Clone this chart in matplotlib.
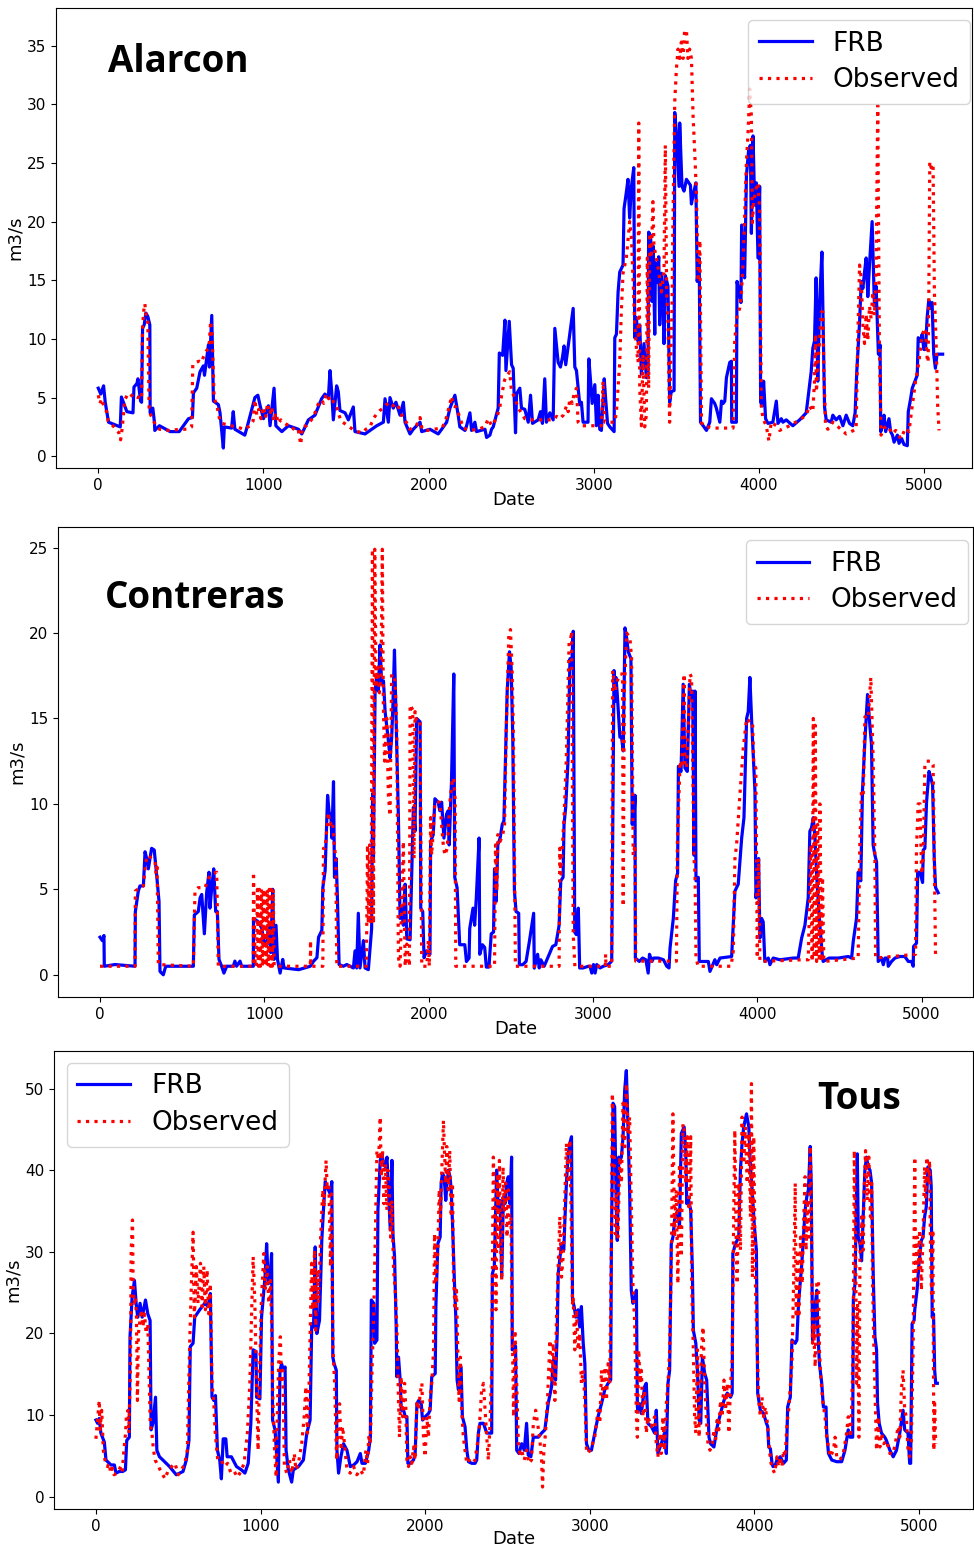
import matplotlib
matplotlib.use("Agg")
import matplotlib.pyplot as plt

# ---------------- Alarcon ----------------
alarcon_frb_day = [0, 15, 32, 42, 62, 133, 140, 173, 210, 216, 234, 240, 256, 262, 268, 278, 288, 300, 312, 314,
                   330, 340, 342, 370, 435, 490, 546, 570, 576, 596, 616, 636, 643, 667, 673, 687, 697, 727, 737, 757,
                   763, 807, 817, 827, 887, 907, 948, 966, 980, 1000, 1030, 1040, 1064, 1075, 1111, 1151, 1212, 1232, 1272, 1312,
                   1352, 1372, 1393, 1403, 1413, 1423, 1443, 1453, 1463, 1494, 1514, 1544, 1554, 1615, 1645, 1686, 1726, 1736, 1756, 1766,
                   1786, 1802, 1827, 1847, 1857, 1887, 1907, 1948, 1958, 2008, 2058, 2079, 2109, 2129, 2159, 2179, 2189, 2220, 2230, 2250,
                   2260, 2280, 2290, 2341, 2351, 2371, 2381, 2391, 2421, 2428, 2448, 2462, 2468, 2488, 2502, 2512, 2526, 2532, 2552, 2562,
                   2582, 2603, 2617, 2629, 2663, 2677, 2689, 2703, 2713, 2734, 2754, 2764, 2784, 2798, 2810, 2820, 2830, 2875, 2885, 2895,
                   2915, 2925, 2935, 2965, 2970, 2982, 2990, 3006, 3016, 3026, 3036, 3046, 3063, 3071, 3083, 3097, 3123, 3127, 3137, 3147,
                   3157, 3177, 3183, 3197, 3207, 3217, 3228, 3242, 3248, 3258, 3268, 3278, 3288, 3304, 3318, 3328, 3332, 3344, 3352, 3360,
                   3369, 3373, 3385, 3393, 3399, 3409, 3419, 3425, 3433, 3449, 3459, 3469, 3486, 3490, 3500, 3516, 3520, 3534, 3546, 3561,
                   3575, 3585, 3591, 3600, 3618, 3626, 3638, 3646, 3662, 3682, 3702, 3712, 3732, 3742, 3763, 3773, 3783, 3793, 3803, 3823,
                   3833, 3835, 3863, 3867, 3883, 3891, 3895, 3903, 3913, 3924, 3938, 3948, 3954, 3964, 3974, 3984, 3994, 4004, 4010, 4020,
                   4028, 4040, 4054, 4084, 4105, 4115, 4135, 4145, 4165, 4205, 4246, 4286, 4316, 4326, 4336, 4346, 4356, 4367, 4381, 4387,
                   4397, 4407, 4437, 4447, 4467, 4488, 4508, 4528, 4548, 4568, 4582, 4592, 4609, 4619, 4629, 4639, 4649, 4659, 4669, 4685,
                   4699, 4709, 4723, 4729, 4733, 4737, 4747, 4757, 4767, 4787, 4797, 4808, 4818, 4838, 4848, 4864, 4878, 4898, 4904, 4918,
                   4928, 4944, 4958, 4964, 4978, 4988, 4998, 5008, 5018, 5028, 5038, 5048, 5058, 5068, 5078, 5112]
alarcon_frb_q = [5.8, 5.3, 6.0, 4.6, 2.9, 2.5, 5.05, 3.8, 3.7, 5.9, 6.2, 6.6, 4.7, 4.6, 10.9, 11.2, 12.2, 11.9, 11.2, 3.7,
                 4.1, 2.9, 2.2, 2.6, 2.1, 2.1, 3.2, 3.3, 5.4, 5.8, 7.2, 7.7, 6.9, 9.5, 7.6, 12.0, 4.7, 4.4, 3.7, 0.7,
                 2.5, 2.4, 3.8, 2.3, 1.8, 2.8, 5.0, 5.2, 4.3, 3.2, 4.3, 2.6, 5.8, 2.6, 2.1, 2.6, 2.3, 1.9, 3.1, 3.5,
                 4.9, 5.3, 5.0, 7.3, 5.5, 3.1, 6.0, 5.5, 3.9, 3.7, 3.1, 4.2, 2.1, 1.9, 2.2, 2.6, 2.9, 4.9, 2.9, 5.0,
                 4.1, 4.6, 3.5, 4.6, 2.9, 1.9, 2.3, 2.9, 2.1, 2.3, 1.9, 2.3, 2.9, 4.1, 5.2, 3.5, 2.5, 2.2, 2.6, 3.7,
                 2.2, 2.9, 2.1, 2.3, 1.6, 1.8, 2.3, 2.5, 4.1, 8.8, 8.6, 11.6, 7.3, 11.5, 7.8, 7.5, 2.0, 5.3, 5.8, 4.1,
                 4.0, 2.9, 5.2, 2.8, 3.1, 3.8, 2.8, 6.6, 2.9, 3.7, 3.1, 10.9, 8.0, 7.6, 8.4, 9.4, 7.8, 12.6, 7.6, 7.3,
                 4.4, 4.6, 2.9, 2.9, 8.3, 6.1, 4.5, 6.1, 2.6, 5.2, 2.3, 2.2, 6.6, 5.0, 2.8, 2.5, 2.1, 10.1, 10.4, 14.0,
                 15.7, 16.3, 21.1, 22.5, 23.6, 20.3, 23.0, 24.6, 10.1, 11.8, 9.8, 11.2, 7.0, 9.6, 6.7, 6.7, 19.1, 18.8, 13.2, 17.9,
                 10.4, 16.5, 14.8, 17.0, 11.2, 15.6, 13.6, 9.6, 15.4, 14.5, 4.6, 5.5, 5.6, 29.3, 27.6, 23.0, 28.4, 23.0, 22.6, 23.6,
                 23.3, 23.1, 21.5, 22.2, 23.3, 14.9, 16.9, 2.9, 2.6, 2.2, 2.9, 4.9, 4.5, 4.1, 2.9, 4.7, 4.5, 4.7, 6.7, 8.0,
                 8.1, 2.9, 2.9, 14.9, 13.8, 13.1, 19.7, 16.9, 15.2, 23.9, 26.2, 26.5, 19.0, 27.3, 21.4, 23.3, 16.9, 23.0, 4.6, 4.3,
                 6.4, 3.2, 2.8, 2.9, 4.7, 2.8, 3.2, 2.9, 3.1, 2.6, 3.1, 3.7, 7.2, 9.2, 9.8, 15.2, 6.4, 13.1, 17.4, 12.3,
                 4.2, 3.1, 2.9, 3.5, 3.1, 3.4, 2.6, 3.5, 2.8, 2.6, 3.7, 7.2, 11.4, 14.9, 14.3, 15.7, 16.9, 13.6, 16.3, 20.0,
                 12.8, 14.5, 8.7, 9.0, 9.5, 2.1, 2.6, 3.5, 2.1, 3.2, 2.1, 1.8, 1.2, 1.8, 1.1, 1.5, 1.0, 0.9, 3.8, 4.9,
                 5.8, 6.4, 6.9, 10.1, 9.8, 10.4, 9.1, 9.1, 11.8, 13.3, 12.6, 13.1, 8.7, 7.5, 8.7, 8.7]

alarcon_obs_day = [0, 10, 20, 35, 50, 60, 75, 95, 110, 125, 135, 145, 160, 175, 190, 210, 240, 255, 262, 268,
                   275, 282, 290, 300, 308, 325, 345, 370, 430, 500, 540, 565, 572, 590, 610, 625, 635, 655, 670, 680,
                   690, 701, 720, 735, 750, 800, 840, 880, 920, 937, 948, 960, 972, 985, 1000, 1012, 1025, 1040, 1050, 1062,
                   1075, 1090, 1105, 1120, 1140, 1160, 1190, 1210, 1226, 1235, 1260, 1290, 1312, 1330, 1350, 1365, 1380, 1395, 1410, 1425,
                   1440, 1455, 1470, 1490, 1510, 1540, 1570, 1600, 1620, 1645, 1665, 1685, 1705, 1725, 1745, 1765, 1785, 1805, 1825, 1845,
                   1865, 1885, 1905, 1925, 1948, 1960, 1990, 2030, 2080, 2100, 2129, 2139, 2149, 2165, 2189, 2210, 2250, 2300, 2340, 2361,
                   2381, 2410, 2430, 2442, 2460, 2475, 2491, 2502, 2522, 2542, 2562, 2582, 2620, 2680, 2754, 2775, 2795, 2815, 2835, 2845,
                   2855, 2870, 2880, 2895, 2900, 2905, 2925, 3006, 3046, 3056, 3066, 3127, 3137, 3157, 3167, 3177, 3197, 3217, 3228, 3248,
                   3258, 3268, 3272, 3278, 3288, 3298, 3308, 3318, 3324, 3332, 3338, 3348, 3358, 3364, 3379, 3393, 3409, 3425, 3433, 3441,
                   3449, 3459, 3465, 3473, 3479, 3490, 3500, 3510, 3520, 3530, 3540, 3550, 3561, 3570, 3580, 3591, 3601, 3611, 3621, 3626,
                   3632, 3642, 3652, 3662, 3722, 3823, 3843, 3853, 3867, 3883, 3893, 3903, 3913, 3924, 3934, 3944, 3954, 3960, 3968, 3984,
                   3994, 4004, 4014, 4024, 4044, 4060, 4074, 4105, 4125, 4185, 4246, 4286, 4306, 4326, 4336, 4342, 4348, 4356, 4367, 4377,
                   4387, 4393, 4403, 4417, 4447, 4528, 4588, 4598, 4609, 4619, 4629, 4639, 4649, 4659, 4669, 4679, 4689, 4699, 4709, 4719,
                   4725, 4729, 4739, 4757, 4777, 4808, 4828, 4858, 4888, 4908, 4928, 4948, 4968, 4988, 5008, 5018, 5024, 5028, 5034, 5042,
                   5054, 5062, 5074, 5082, 5090]
alarcon_obs_q = [5.2, 4.5, 4.9, 4.2, 3.8, 3.0, 2.8, 2.5, 2.2, 2.0, 1.4, 2.4, 4.8, 5.2, 5.0, 5.3, 5.0, 5.2, 5.0, 11.0,
                 12.4, 13.0, 11.8, 11.4, 3.8, 3.3, 2.7, 2.3, 2.2, 2.3, 2.3, 2.5, 7.8, 8.0, 8.1, 8.0, 8.4, 9.0, 9.2, 11.5,
                 10.2, 5.0, 4.2, 3.1, 2.8, 2.6, 2.5, 2.3, 2.6, 3.0, 4.8, 3.5, 4.0, 3.2, 4.2, 3.3, 4.5, 3.6, 4.2, 3.0,
                 3.7, 2.8, 3.1, 2.9, 2.7, 2.7, 2.2, 2.3, 1.0, 2.5, 2.6, 3.1, 3.7, 4.4, 4.8, 4.5, 5.3, 4.9, 5.1, 4.6,
                 4.4, 3.6, 3.0, 2.8, 2.6, 2.3, 2.1, 2.0, 2.3, 2.5, 3.2, 3.6, 3.9, 4.1, 4.4, 4.6, 4.3, 4.5, 4.0, 3.2,
                 2.9, 2.3, 2.4, 2.6, 3.3, 2.3, 2.2, 2.3, 2.4, 2.9, 4.5, 5.1, 4.3, 4.2, 3.3, 2.4, 2.2, 2.3, 2.5, 3.2,
                 2.6, 3.2, 4.1, 5.2, 6.5, 6.9, 7.2, 5.5, 5.0, 4.1, 3.7, 3.2, 3.1, 3.1, 3.1, 3.4, 3.2, 3.5, 4.3, 3.8,
                 4.9, 4.5, 5.3, 5.8, 4.3, 2.9, 2.6, 2.6, 2.6, 6.4, 2.9, 2.9, 3.8, 8.0, 12.5, 15.6, 16.9, 20.0, 18.6, 11.2,
                 9.2, 8.0, 28.4, 5.8, 2.6, 8.7, 2.5, 3.5, 16.9, 5.8, 19.0, 16.9, 21.7, 17.9, 16.9, 15.7, 14.0, 15.7, 26.5, 14.0,
                 11.4, 2.9, 7.2, 12.4, 19.7, 30.2, 33.0, 34.7, 33.9, 35.3, 33.9, 36.3, 36.3, 33.9, 34.7, 33.9, 29.0, 25.9, 22.5, 19.1,
                 14.9, 18.4, 2.9, 2.6, 2.4, 2.4, 2.4, 9.8, 12.0, 12.6, 13.8, 16.3, 20.3, 25.1, 27.6, 31.3, 29.0, 19.9, 21.7, 22.9,
                 23.3, 20.9, 4.3, 3.2, 2.6, 1.3, 2.9, 2.6, 2.2, 2.6, 3.1, 3.5, 4.3, 3.8, 6.4, 10.4, 5.5, 7.7, 9.9, 12.3,
                 12.3, 7.3, 2.6, 2.3, 2.9, 1.9, 2.3, 9.9, 16.3, 15.2, 11.2, 9.6, 12.1, 9.9, 12.8, 11.7, 14.0, 12.0, 16.0, 29.9,
                 18.0, 9.6, 1.8, 2.4, 2.6, 1.9, 2.2, 1.5, 2.4, 2.1, 4.3, 6.4, 8.0, 10.4, 10.9, 8.4, 8.0, 13.1, 25.1, 24.6,
                 24.9, 14.0, 8.9, 4.3, 2.2]

# ---------------- Contreras ----------------
contreras_frb_day = [0, 14, 24, 26, 91, 213, 215, 233, 243, 264, 274, 284, 294, 314, 330, 345, 359, 365, 385, 400,
                     568, 574, 598, 609, 619, 635, 649, 663, 669, 680, 692, 704, 714, 724, 740, 754, 771, 811, 821, 831,
                     852, 862, 933, 934, 964, 985, 995, 1015, 1025, 1039, 1051, 1059, 1071, 1080, 1096, 1112, 1120, 1209, 1280, 1300,
                     1320, 1330, 1350, 1356, 1370, 1385, 1397, 1405, 1411, 1421, 1427, 1437, 1445, 1455, 1481, 1502, 1542, 1552, 1562, 1572,
                     1582, 1603, 1613, 1633, 1653, 1659, 1664, 1674, 1684, 1694, 1704, 1714, 1725, 1735, 1755, 1765, 1775, 1782, 1792, 1802,
                     1816, 1826, 1836, 1846, 1857, 1867, 1887, 1897, 1907, 1917, 1927, 1948, 1952, 1964, 1972, 1988, 2008, 2012, 2028, 2038,
                     2058, 2068, 2079, 2093, 2109, 2119, 2125, 2139, 2153, 2159, 2173, 2189, 2220, 2230, 2246, 2250, 2270, 2280, 2290, 2307,
                     2311, 2327, 2341, 2351, 2367, 2381, 2395, 2401, 2411, 2421, 2435, 2448, 2458, 2468, 2478, 2492, 2502, 2512, 2522, 2532,
                     2548, 2552, 2572, 2593, 2613, 2639, 2643, 2663, 2673, 2683, 2703, 2734, 2754, 2774, 2794, 2804, 2818, 2824, 2834, 2848,
                     2860, 2870, 2880, 2889, 2899, 2911, 2919, 2940, 2972, 2982, 2993, 3003, 3013, 3023, 3043, 3063, 3094, 3114, 3128, 3134,
                     3140, 3148, 3164, 3174, 3184, 3195, 3205, 3215, 3231, 3239, 3245, 3250, 3256, 3258, 3282, 3302, 3322, 3336, 3344, 3359,
                     3369, 3398, 3429, 3449, 3463, 3469, 3489, 3503, 3515, 3520, 3536, 3549, 3560, 3574, 3587, 3597, 3607, 3615, 3621, 3627,
                     3641, 3647, 3671, 3702, 3712, 3742, 3753, 3773, 3844, 3864, 3884, 3905, 3919, 3935, 3945, 3955, 3966, 3976, 3986, 3992,
                     4000, 4008, 4016, 4026, 4036, 4046, 4067, 4077, 4097, 4138, 4219, 4249, 4270, 4290, 4310, 4320, 4330, 4341, 4351, 4361,
                     4371, 4381, 4397, 4401, 4437, 4493, 4554, 4574, 4584, 4604, 4614, 4630, 4640, 4655, 4671, 4685, 4695, 4705, 4716, 4726,
                     4736, 4756, 4767, 4777, 4793, 4797, 4817, 4838, 4868, 4898, 4919, 4939, 4949, 4951, 4969, 4976, 4990, 5006, 5010, 5020,
                     5030, 5045, 5057, 5067, 5077, 5085, 5101]
contreras_frb_q = [2.2, 2.0, 2.3, 0.5, 0.6, 0.5, 3.7, 4.9, 5.2, 5.2, 7.2, 6.8, 6.2, 7.4, 7.3, 5.8, 4.3, 0.2, 0.0, 0.5,
                   0.5, 3.5, 3.7, 4.5, 4.7, 2.4, 4.8, 6.0, 3.9, 5.1, 6.2, 3.7, 3.7, 0.9, 0.5, 0.1, 0.5, 0.5, 0.8, 0.5,
                   0.8, 0.5, 0.5, 3.3, 3.1, 2.7, 2.0, 1.8, 2.9, 1.3, 5.0, 0.9, 2.9, 0.9, 0.1, 0.9, 0.4, 0.3, 0.5, 0.8,
                   1.0, 2.2, 2.6, 5.1, 6.1, 10.5, 9.2, 9.4, 8.0, 11.3, 5.7, 6.8, 4.4, 0.6, 0.5, 0.6, 0.4, 1.4, 0.4, 3.6,
                   0.4, 2.0, 0.4, 0.3, 2.7, 10.6, 6.8, 16.6, 17.4, 16.6, 19.3, 17.0, 17.2, 15.4, 13.7, 12.7, 13.9, 15.6, 19.0, 15.0,
                   9.2, 3.3, 3.9, 2.9, 5.3, 2.1, 2.05, 5.9, 9.8, 8.4, 15.0, 14.8, 3.9, 3.7, 1.0, 1.4, 1.2, 7.8, 8.2, 10.3,
                   10.1, 9.6, 10.1, 8.0, 9.4, 9.6, 7.6, 11.3, 17.6, 5.7, 5.1, 1.76, 1.76, 0.78, 0.98, 2.7, 3.9, 2.9, 4.5, 8.0,
                   1.2, 1.76, 1.6, 0.45, 0.45, 2.4, 2.5, 6.2, 4.3, 7.6, 8.0, 8.8, 9.0, 12.7, 16.6, 18.9, 18.0, 13.9, 4.9, 3.7,
                   3.6, 0.59, 0.59, 0.78, 1.95, 3.6, 0.39, 1.2, 0.4, 0.88, 0.5, 1.2, 1.66, 1.76, 2.9, 5.5, 5.7, 8.8, 9.8, 12.5,
                   18.5, 18.1, 20.1, 2.5, 2.35, 3.9, 0.4, 0.4, 0.5, 0.5, 0.1, 0.6, 0.1, 0.6, 0.4, 0.5, 0.6, 0.8, 17.8, 16.0,
                   17.4, 16.4, 13.9, 13.9, 13.1, 20.3, 19.7, 18.9, 18.5, 8.8, 10.3, 9.2, 10.5, 0.98, 0.78, 0.98, 0.88, 0.1, 1.2, 0.78,
                   0.98, 0.98, 0.88, 0.5, 0.4, 1.56, 3.3, 5.5, 5.95, 12.2, 11.9, 17.0, 12.1, 11.9, 17.0, 16.2, 16.6, 7.0, 16.6, 5.5,
                   5.7, 0.78, 0.78, 0.78, 0.2, 0.88, 0.59, 0.98, 1.07, 4.9, 5.3, 8.0, 9.2, 15.0, 15.4, 17.4, 14.8, 12.7, 10.7, 4.5,
                   5.3, 6.8, 2.15, 3.3, 3.1, 0.78, 0.98, 0.59, 0.98, 0.88, 0.98, 0.98, 2.15, 2.9, 4.5, 8.4, 8.6, 9.2, 8.0, 5.9,
                   4.3, 2.9, 0.98, 0.78, 0.98, 0.98, 1.07, 0.98, 1.95, 3.3, 6.0, 5.5, 10.7, 13.7, 16.4, 14.6, 13.5, 7.6, 7.0, 6.6,
                   0.78, 0.98, 0.59, 0.98, 0.98, 0.5, 0.78, 0.98, 1.07, 1.07, 0.78, 0.78, 0.5, 1.66, 1.85, 6.0, 6.0, 5.4, 7.3, 7.4,
                   10.1, 11.9, 11.5, 11.1, 6.8, 5.1, 4.8]

contreras_obs_day = [0, 213, 215, 243, 264, 278, 294, 314, 335, 341, 347, 355, 568, 578, 598, 639, 663, 680, 710, 720,
                     933, 934, 944, 952, 958, 964, 970, 976, 982, 988, 994, 1000, 1006, 1012, 1018, 1024, 1030, 1036, 1042, 1048,
                     1054, 1060, 1280, 1281, 1283, 1356, 1360, 1370, 1389, 1399, 1415, 1425, 1435, 1441, 1621, 1628, 1633, 1641, 1650, 1658,
                     1664, 1672, 1680, 1690, 1700, 1710, 1718, 1724, 1732, 1745, 1755, 1765, 1775, 1796, 1806, 1816, 1826, 1846, 1857, 1867,
                     1883, 1887, 1903, 1911, 1917, 1927, 1948, 1958, 1988, 1998, 2004, 2012, 2018, 2028, 2038, 2068, 2089, 2099, 2113, 2129,
                     2145, 2153, 2161, 2165, 2401, 2407, 2415, 2421, 2435, 2451, 2462, 2472, 2488, 2498, 2508, 2516, 2524, 2528, 2794, 2798,
                     2804, 2824, 2838, 2855, 2865, 2870, 2880, 2890, 3075, 3077, 3079, 3114, 3120, 3134, 3148, 3165, 3180, 3184, 3191, 3205,
                     3225, 3235, 3245, 3256, 3260, 3508, 3514, 3530, 3540, 3555, 3560, 3570, 3591, 3600, 3615, 3621, 3627, 3640, 3840, 3854,
                     3864, 3874, 3894, 3915, 3935, 3955, 3971, 3979, 3991, 4000, 4008, 4016, 4281, 4310, 4320, 4326, 4334, 4341, 4347, 4353,
                     4361, 4367, 4377, 4381, 4391, 4397, 4405, 4614, 4624, 4634, 4645, 4655, 4675, 4691, 4705, 4716, 4720, 4963, 4969, 4979,
                     4990, 5000, 5010, 5020, 5030, 5060, 5070, 5077, 5085]
contreras_obs_q = [0.5, 0.5, 4.9, 5.1, 5.2, 6.6, 7.0, 6.8, 6.6, 5.9, 6.5, 0.6, 0.5, 4.9, 5.1, 5.1, 5.7, 5.9, 6.0, 0.5,
                   0.5, 6.0, 0.5, 0.5, 5.0, 0.5, 5.0, 0.5, 5.0, 0.5, 5.0, 0.5, 5.0, 0.5, 5.0, 0.5, 5.0, 0.5, 5.0, 0.5,
                   5.0, 0.5, 0.5, 2.0, 0.5, 0.5, 7.4, 7.4, 9.5, 8.8, 9.0, 7.7, 6.8, 0.5, 0.5, 7.6, 3.0, 7.6, 3.0, 24.9,
                   3.0, 24.9, 17.0, 18.0, 16.5, 17.5, 24.9, 16.0, 12.5, 15.0, 10.5, 9.3, 17.6, 17.2, 14.3, 1.0, 0.5, 7.8, 0.5, 1.8,
                   0.5, 15.8, 15.5, 6.8, 15.4, 14.8, 14.8, 0.5, 0.5, 2.0, 0.5, 9.2, 7.0, 8.4, 10.1, 10.1, 7.6, 7.0, 7.4, 10.1,
                   11.5, 11.5, 10.3, 0.5, 0.5, 7.6, 4.9, 8.2, 7.8, 8.2, 8.8, 14.2, 19.9, 20.2, 17.8, 13.9, 4.9, 0.5, 0.5, 7.4,
                   5.9, 9.2, 12.7, 19.5, 19.7, 20.1, 2.35, 0.5, 0.5, 1.2, 0.5, 0.5, 17.8, 16.6, 17.2, 17.6, 17.6, 4.0, 16.6, 20.0,
                   19.7, 18.5, 7.0, 7.6, 0.8, 0.8, 7.8, 12.5, 12.1, 17.6, 12.3, 12.1, 17.6, 17.4, 6.8, 6.0, 1.0, 0.5, 0.5, 1.4,
                   6.8, 7.6, 10.5, 13.3, 15.0, 14.8, 14.8, 12.3, 12.1, 0.98, 6.8, 0.78, 0.88, 0.88, 4.9, 7.6, 0.78, 15.0, 0.98, 14.6,
                   0.78, 8.8, 0.98, 10.0, 0.78, 5.7, 0.78, 0.98, 7.6, 10.7, 10.5, 15.1, 15.0, 17.4, 12.7, 6.8, 0.98, 1.2, 7.4, 10.0,
                   10.0, 5.9, 6.8, 12.3, 12.5, 12.5, 12.3, 6.8, 0.98]

# ---------------- Tous ----------------
tous_frb_day = [0, 10, 20, 30, 51, 61, 91, 112, 122, 142, 163, 179, 187, 203, 207, 220, 234, 244, 254, 268,
                281, 301, 315, 329, 335, 346, 362, 370, 386, 407, 447, 488, 529, 549, 565, 573, 590, 600, 630, 661,
                681, 695, 705, 716, 726, 738, 752, 762, 773, 789, 797, 823, 854, 884, 905, 925, 941, 955, 972, 976,
                996, 1006, 1027, 1037, 1047, 1057, 1067, 1073, 1088, 1098, 1108, 1118, 1128, 1139, 1149, 1155, 1169, 1189, 1199, 1230,
                1260, 1281, 1301, 1311, 1322, 1332, 1342, 1358, 1372, 1382, 1393, 1403, 1423, 1433, 1439, 1447, 1460, 1464, 1474, 1488,
                1504, 1525, 1545, 1566, 1586, 1606, 1616, 1637, 1657, 1667, 1673, 1687, 1693, 1707, 1713, 1727, 1737, 1747, 1758, 1768,
                1778, 1788, 1798, 1804, 1814, 1824, 1828, 1838, 1848, 1855, 1869, 1879, 1889, 1895, 1909, 1929, 1939, 1950, 1960, 1976,
                1984, 2000, 2020, 2030, 2040, 2061, 2065, 2077, 2091, 2097, 2105, 2115, 2125, 2131, 2141, 2151, 2158, 2166, 2178, 2186,
                2194, 2202, 2218, 2226, 2242, 2253, 2263, 2283, 2303, 2313, 2323, 2333, 2354, 2374, 2404, 2408, 2420, 2434, 2444, 2455,
                2465, 2475, 2485, 2495, 2505, 2515, 2525, 2529, 2541, 2549, 2556, 2570, 2586, 2602, 2616, 2626, 2642, 2657, 2687, 2707,
                2727, 2747, 2768, 2778, 2792, 2802, 2808, 2828, 2842, 2848, 2858, 2869, 2879, 2889, 2895, 2905, 2915, 2929, 2939, 2949,
                2960, 2970, 2980, 2994, 3010, 3030, 3050, 3071, 3091, 3111, 3127, 3131, 3141, 3151, 3161, 3167, 3176, 3182, 3192, 3202,
                3212, 3222, 3228, 3236, 3242, 3252, 3262, 3273, 3283, 3289, 3293, 3303, 3313, 3333, 3343, 3353, 3374, 3394, 3404, 3414,
                3434, 3454, 3465, 3475, 3485, 3495, 3505, 3515, 3535, 3545, 3556, 3573, 3583, 3589, 3597, 3613, 3623, 3629, 3644, 3654,
                3664, 3674, 3684, 3698, 3710, 3724, 3734, 3754, 3774, 3794, 3815, 3835, 3855, 3865, 3869, 3885, 3905, 3915, 3925, 3935,
                3952, 3966, 3976, 3986, 4000, 4012, 4020, 4036, 4056, 4073, 4081, 4087, 4097, 4107, 4113, 4127, 4137, 4157, 4177, 4194,
                4202, 4218, 4228, 4248, 4258, 4268, 4288, 4308, 4318, 4328, 4339, 4345, 4353, 4359, 4369, 4379, 4385, 4395, 4409, 4419,
                4435, 4439, 4450, 4470, 4500, 4530, 4550, 4570, 4581, 4597, 4601, 4611, 4617, 4625, 4631, 4641, 4651, 4661, 4671, 4681,
                4691, 4702, 4712, 4722, 4732, 4742, 4748, 4758, 4772, 4792, 4802, 4823, 4843, 4863, 4883, 4903, 4913, 4933, 4943, 4949,
                4958, 4970, 4974, 4988, 5000, 5014, 5024, 5034, 5044, 5054, 5068, 5074, 5080, 5088, 5095, 5101, 5111]
tous_frb_q = [9.4, 9.0, 9.6, 7.8, 6.7, 4.5, 3.9, 3.9, 2.9, 3.1, 3.1, 3.3, 6.9, 7.3, 19.6, 24.5, 26.5, 23.7, 22.0, 23.7,
              22.0, 24.1, 22.4, 21.6, 8.2, 9.0, 12.2, 5.7, 4.9, 4.5, 3.7, 2.7, 3.1, 4.5, 6.9, 18.4, 18.8, 22.0, 22.9, 23.7,
              23.3, 24.9, 12.2, 11.8, 12.4, 5.7, 4.5, 2.2, 7.1, 7.1, 4.9, 4.9, 3.7, 3.3, 2.9, 4.1, 9.0, 18.0, 17.8, 12.2,
              12.0, 22.0, 26.9, 31.0, 26.1, 26.5, 29.8, 9.4, 8.2, 4.9, 1.8, 15.5, 16.3, 15.5, 15.9, 5.7, 3.3, 1.8, 3.3, 3.7,
              4.5, 7.8, 9.4, 21.2, 20.8, 30.6, 20.0, 21.6, 31.4, 35.1, 38.6, 38.0, 37.1, 38.6, 17.1, 16.3, 15.5, 5.7, 2.9, 4.9,
              6.5, 5.7, 3.7, 3.9, 4.3, 5.3, 4.1, 4.1, 5.7, 7.3, 24.1, 23.7, 18.8, 19.2, 35.1, 41.2, 42.0, 40.8, 40.4, 41.6,
              37.1, 32.7, 41.2, 32.2, 29.4, 20.8, 14.7, 17.1, 14.3, 10.6, 10.6, 9.8, 9.8, 4.1, 4.1, 4.5, 5.3, 11.4, 11.8, 11.4,
              9.4, 9.8, 10.2, 10.6, 14.7, 15.1, 23.3, 31.0, 31.8, 38.4, 39.6, 39.2, 36.3, 38.0, 40.0, 39.2, 37.6, 33.5, 26.1, 22.0,
              14.3, 13.1, 15.9, 9.8, 8.6, 5.7, 4.3, 4.1, 4.1, 4.5, 7.8, 9.0, 9.0, 7.8, 7.8, 27.3, 28.2, 40.0, 35.1, 36.3,
              26.9, 36.7, 35.9, 38.4, 39.2, 35.9, 41.6, 18.0, 18.8, 18.4, 5.7, 5.3, 6.5, 5.7, 9.0, 5.1, 4.9, 7.3, 7.3, 7.8,
              8.2, 11.4, 13.5, 16.7, 14.3, 20.0, 27.3, 31.0, 30.2, 33.5, 38.4, 42.0, 43.3, 44.1, 24.1, 23.3, 22.0, 22.9, 20.8, 23.3,
              18.8, 16.3, 6.5, 5.7, 5.7, 7.8, 9.8, 11.4, 13.1, 13.9, 14.3, 30.2, 48.2, 47.8, 35.1, 31.4, 41.6, 41.2, 41.6, 44.1,
              49.8, 52.2, 48.2, 42.4, 37.6, 25.3, 23.7, 24.1, 25.3, 11.0, 10.6, 11.4, 10.2, 13.5, 13.9, 9.0, 8.6, 7.8, 10.6, 5.3,
              6.5, 7.8, 5.3, 13.9, 15.5, 31.0, 31.8, 33.9, 35.1, 33.1, 44.5, 45.3, 42.4, 35.9, 36.7, 35.1, 27.8, 20.4, 18.8, 15.5,
              9.4, 9.0, 17.1, 15.1, 14.3, 7.3, 6.5, 6.1, 8.6, 10.2, 11.8, 12.7, 12.2, 12.7, 29.8, 31.0, 31.8, 40.0, 43.3, 45.3,
              46.9, 45.3, 40.4, 37.6, 33.1, 30.2, 12.7, 10.6, 10.2, 9.0, 8.6, 6.1, 5.9, 4.1, 3.7, 3.9, 4.5, 4.9, 4.1, 4.5,
              11.0, 12.2, 19.2, 18.8, 19.2, 23.7, 28.6, 35.1, 36.7, 37.6, 42.9, 38.4, 19.2, 19.6, 23.3, 25.3, 20.4, 16.3, 13.9, 11.0,
              11.0, 7.8, 5.3, 4.5, 4.3, 4.3, 5.7, 8.2, 7.3, 7.3, 24.1, 26.1, 33.5, 42.0, 31.8, 31.0, 28.9, 34.3, 40.0, 41.6,
              40.4, 40.0, 38.4, 26.9, 19.6, 18.0, 11.4, 9.0, 7.8, 7.3, 6.9, 5.7, 4.9, 5.7, 7.8, 10.6, 8.2, 7.8, 4.1, 4.1,
              21.2, 21.6, 22.9, 25.3, 28.6, 31.4, 31.8, 34.3, 35.5, 40.4, 40.0, 38.0, 22.0, 22.4, 15.5, 13.9, 13.9]

tous_obs_day = [0, 20, 25, 35, 45, 55, 70, 80, 90, 100, 110, 130, 150, 160, 170, 180, 185, 195, 200, 210,
                214, 222, 226, 232, 240, 246, 252, 258, 265, 275, 285, 295, 305, 315, 330, 340, 350, 360, 380, 400,
                420, 440, 460, 480, 500, 520, 540, 555, 570, 580, 590, 598, 610, 620, 635, 645, 655, 665, 675, 685,
                695, 705, 715, 725, 740, 760, 780, 800, 820, 840, 860, 880, 900, 920, 935, 945, 955, 965, 975, 985,
                990, 1005, 1020, 1030, 1040, 1050, 1060, 1068, 1075, 1085, 1095, 1100, 1110, 1120, 1128, 1135, 1145, 1160, 1175, 1190,
                1205, 1215, 1230, 1250, 1265, 1275, 1285, 1295, 1310, 1318, 1328, 1335, 1345, 1352, 1365, 1378, 1385, 1398, 1405, 1415,
                1425, 1430, 1440, 1450, 1462, 1472, 1480, 1490, 1498, 1510, 1525, 1545, 1565, 1585, 1605, 1625, 1640, 1650, 1657, 1667,
                1677, 1687, 1697, 1707, 1717, 1727, 1733, 1741, 1749, 1758, 1768, 1774, 1782, 1790, 1798, 1808, 1818, 1828, 1838, 1844,
                1854, 1863, 1875, 1883, 1889, 1899, 1909, 1919, 1929, 1939, 1950, 1960, 1970, 1980, 1990, 2000, 2010, 2020, 2030, 2040,
                2051, 2057, 2065, 2077, 2085, 2093, 2101, 2111, 2117, 2125, 2131, 2141, 2149, 2158, 2166, 2172, 2182, 2190, 2198, 2206,
                2214, 2222, 2232, 2242, 2253, 2267, 2283, 2303, 2323, 2333, 2343, 2354, 2364, 2374, 2384, 2394, 2404, 2414, 2424, 2430,
                2438, 2444, 2451, 2457, 2465, 2473, 2481, 2489, 2497, 2505, 2513, 2521, 2529, 2537, 2545, 2556, 2566, 2576, 2586, 2602,
                2616, 2630, 2646, 2657, 2671, 2683, 2697, 2707, 2713, 2721, 2731, 2743, 2758, 2768, 2778, 2788, 2798, 2808, 2818, 2828,
                2838, 2848, 2858, 2869, 2879, 2889, 2895, 2899, 2909, 2919, 2929, 2939, 2949, 2960, 2970, 2980, 2990, 3010, 3030, 3050,
                3061, 3071, 3081, 3091, 3101, 3111, 3121, 3131, 3137, 3147, 3155, 3161, 3171, 3182, 3192, 3202, 3212, 3222, 3232, 3242,
                3252, 3262, 3273, 3283, 3289, 3297, 3305, 3313, 3323, 3333, 3343, 3353, 3374, 3394, 3404, 3414, 3424, 3434, 3444, 3454,
                3465, 3475, 3485, 3495, 3505, 3515, 3525, 3535, 3545, 3556, 3566, 3573, 3583, 3593, 3603, 3613, 3619, 3629, 3637, 3644,
                3654, 3664, 3678, 3688, 3698, 3710, 3718, 3730, 3744, 3754, 3764, 3774, 3784, 3794, 3804, 3815, 3825, 3835, 3845, 3855,
                3865, 3875, 3881, 3889, 3895, 3905, 3915, 3925, 3935, 3945, 3956, 3966, 3976, 3982, 3988, 3996, 4006, 4016, 4026, 4036,
                4046, 4056, 4067, 4081, 4091, 4101, 4113, 4123, 4137, 4147, 4157, 4167, 4177, 4187, 4198, 4208, 4218, 4228, 4238, 4248,
                4254, 4262, 4270, 4280, 4290, 4300, 4308, 4314, 4322, 4332, 4339, 4345, 4353, 4359, 4369, 4379, 4389, 4395, 4403, 4415,
                4429, 4439, 4450, 4460, 4470, 4480, 4490, 4500, 4520, 4540, 4560, 4570, 4585, 4595, 4601, 4607, 4615, 4621, 4627, 4635,
                4641, 4651, 4661, 4667, 4675, 4685, 4695, 4705, 4712, 4718, 4726, 4734, 4742, 4752, 4762, 4772, 4786, 4802, 4823, 4843,
                4859, 4873, 4883, 4893, 4903, 4913, 4923, 4933, 4943, 4953, 4964, 4974, 4980, 4988, 4996, 5004, 5014, 5024, 5034, 5040,
                5048, 5058, 5064, 5070, 5076, 5084, 5090, 5095, 5101]
tous_obs_q = [7.1, 11.8, 8.2, 10.6, 5.7, 4.5, 3.7, 4.1, 2.9, 3.5, 2.7, 2.9, 3.7, 3.1, 5.7, 7.8, 9.8, 10.6, 7.8, 16.3,
              30.2, 33.9, 26.1, 23.7, 24.5, 22.0, 11.8, 20.0, 21.2, 22.9, 20.8, 22.4, 20.0, 21.2, 9.0, 7.8, 5.7, 4.5, 3.7, 2.9,
              2.2, 3.3, 3.7, 4.1, 2.7, 3.3, 4.1, 5.7, 19.2, 26.1, 32.4, 22.0, 28.2, 23.7, 28.6, 23.3, 28.2, 22.9, 27.8, 22.4,
              26.1, 13.9, 11.8, 7.8, 4.5, 4.5, 3.7, 4.1, 2.9, 3.1, 2.4, 3.1, 4.1, 7.8, 13.9, 22.0, 29.4, 24.1, 13.9, 5.7,
              11.4, 24.1, 29.8, 25.3, 28.2, 23.7, 26.5, 20.8, 11.8, 5.7, 2.4, 8.6, 16.3, 19.6, 13.9, 15.5, 3.7, 2.9, 4.5, 2.9,
              5.3, 3.3, 4.1, 6.5, 9.8, 13.5, 7.8, 13.9, 28.6, 22.9, 30.2, 20.4, 27.8, 23.7, 31.8, 37.6, 35.5, 41.2, 37.6, 38.4,
              28.2, 37.1, 18.0, 13.9, 4.5, 9.8, 11.4, 5.7, 8.6, 6.5, 3.3, 2.9, 3.7, 2.7, 3.3, 2.7, 5.7, 4.1, 7.3, 6.5,
              15.5, 22.0, 31.8, 42.4, 41.2, 46.5, 39.2, 42.4, 35.9, 40.8, 35.1, 40.0, 37.6, 31.8, 36.3, 27.8, 25.3, 20.8, 11.8, 7.3,
              14.7, 9.8, 13.9, 10.6, 4.5, 3.7, 4.9, 4.1, 6.1, 4.5, 11.8, 10.6, 12.7, 13.9, 7.3, 4.9, 9.8, 7.3, 12.2, 13.9,
              18.0, 32.2, 26.1, 30.2, 37.6, 34.3, 40.0, 46.1, 42.4, 38.4, 42.9, 37.6, 42.4, 34.3, 38.4, 26.9, 22.9, 25.3, 18.0, 11.8,
              17.1, 10.6, 7.3, 5.7, 4.1, 4.5, 4.1, 4.5, 7.3, 9.8, 13.1, 13.9, 10.6, 7.3, 4.5, 9.0, 15.5, 41.6, 34.3, 22.9,
              39.2, 30.2, 41.2, 32.2, 26.5, 40.4, 35.1, 38.4, 31.8, 37.6, 33.5, 34.3, 20.8, 9.8, 20.4, 13.9, 6.5, 5.3, 5.7, 4.5,
              5.7, 4.1, 4.5, 9.0, 10.6, 9.0, 6.9, 4.5, 1.2, 5.7, 7.8, 11.8, 19.2, 13.9, 18.8, 11.8, 22.0, 28.2, 34.3, 26.9,
              29.4, 36.3, 43.3, 38.4, 43.7, 31.8, 23.7, 24.5, 18.0, 22.9, 18.0, 20.0, 13.9, 15.5, 11.8, 5.7, 5.3, 6.1, 7.3, 10.6,
              9.0, 15.5, 12.2, 15.9, 11.8, 16.3, 13.9, 30.2, 49.4, 42.4, 32.2, 37.1, 31.8, 41.6, 38.4, 48.2, 42.4, 50.6, 44.5, 46.5,
              35.9, 26.1, 21.2, 9.8, 7.3, 18.0, 13.9, 15.5, 9.8, 13.1, 7.8, 9.8, 8.6, 9.8, 6.5, 4.9, 7.8, 5.3, 9.8, 5.7,
              11.4, 13.9, 18.0, 28.2, 46.9, 31.8, 37.6, 26.1, 40.8, 29.4, 45.7, 44.9, 38.4, 44.1, 35.1, 44.1, 26.1, 18.0, 9.8, 7.8,
              18.0, 7.3, 18.0, 20.8, 13.9, 9.0, 6.5, 5.7, 6.5, 8.2, 6.9, 9.8, 8.2, 11.8, 9.8, 14.3, 10.6, 13.9, 7.8, 13.9,
              16.7, 35.9, 44.9, 31.8, 26.1, 38.4, 30.2, 46.5, 40.8, 45.3, 38.4, 44.5, 34.3, 50.6, 26.9, 44.1, 26.1, 18.8, 11.8, 9.8,
              12.2, 9.8, 11.0, 8.6, 5.7, 4.1, 3.3, 2.9, 4.9, 3.7, 4.9, 3.7, 5.7, 4.9, 9.0, 10.6, 13.5, 16.3, 26.1, 38.4,
              22.0, 30.2, 22.0, 31.8, 26.1, 34.3, 39.2, 30.2, 36.3, 31.8, 42.9, 37.6, 18.8, 21.2, 15.9, 26.1, 26.5, 18.0, 14.7, 11.8,
              9.8, 7.3, 6.1, 4.9, 5.3, 5.7, 7.3, 4.9, 4.5, 5.3, 7.8, 9.8, 7.3, 13.9, 22.9, 42.4, 30.2, 13.9, 23.7, 7.3,
              29.4, 34.3, 30.2, 37.6, 42.4, 36.3, 41.6, 34.3, 38.4, 26.1, 18.0, 11.8, 5.7, 9.8, 6.1, 7.8, 6.5, 6.9, 5.3, 5.3,
              6.9, 8.6, 7.3, 13.1, 15.5, 10.6, 9.8, 5.7, 4.9, 6.5, 18.0, 41.6, 26.1, 31.8, 27.8, 32.7, 25.3, 31.8, 40.4, 36.7,
              41.6, 38.4, 41.2, 30.2, 24.9, 32.7, 5.7, 11.4, 6.5]

panels = [
    ("Alarcon", alarcon_frb_day, alarcon_frb_q, alarcon_obs_day, alarcon_obs_q),
    ("Contreras", contreras_frb_day, contreras_frb_q, contreras_obs_day, contreras_obs_q),
    ("Tous", tous_frb_day, tous_frb_q, tous_obs_day, tous_obs_q),
]

# layout of the three axes (figure fractions) and their limits
boxes = [[0.0575, 0.6973, 0.9405, 0.2975],
         [0.0595, 0.3551, 0.9395, 0.3040],
         [0.0554, 0.0239, 0.9436, 0.2963]]
xlims = [(-256, 5290), (-256, 5313), (-255, 5328)]
ylims = [(-1.0, 38.2), (-1.3, 26.2), (-1.5, 54.6)]
title_pos = [(0.057, 0.882, 'left'), (0.051, 0.848, 'left'), (0.83, 0.895, 'left')]
legend_loc = [('upper right', (0.998, 0.974)),
              ('upper right', (0.9945, 0.972)),
              ('upper left', (0.014, 0.974))]
xlabel_pad = [-1, -1, -2.5]

fig = plt.figure(figsize=(9.74, 15.46), dpi=100)

for i, (name, fd, fq, od, oq) in enumerate(panels):
    ax = fig.add_axes(boxes[i])
    ax.plot(fd, fq, color='blue', lw=2.3, label='FRB')
    ax.plot(od, oq, color='red', lw=2.3, linestyle=':', label='Observed')
    ax.set_xlim(*xlims[i])
    ax.set_ylim(*ylims[i])
    ax.set_xlabel('Date', fontsize=13, labelpad=xlabel_pad[i])
    ax.set_ylabel('m3/s', fontsize=13, labelpad=2)
    ax.tick_params(labelsize=11)
    tx, ty, ha = title_pos[i]
    ax.text(tx, ty, name, transform=ax.transAxes, fontsize=26.5, fontweight='bold',
            family='Open Sans', ha=ha, va='center')
    loc, anchor = legend_loc[i]
    ax.legend(loc=loc, bbox_to_anchor=anchor, borderaxespad=0, fontsize=19,
              labelspacing=0.4)

fig.savefig('out.png', dpi=100)
